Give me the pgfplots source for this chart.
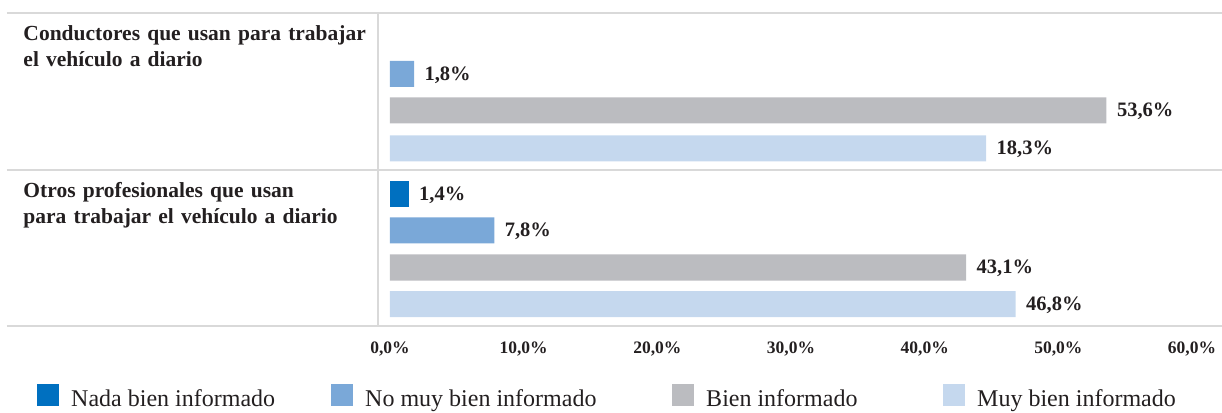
\documentclass[border=0pt]{standalone}
\usepackage{pgfplots}
\pgfplotsset{compat=1.18}
\usepackage{fontspec}
\setmainfont{Liberation Serif}
\definecolor{nada}{RGB}{0,112,192}
\definecolor{nomuy}{RGB}{122,168,216}
\definecolor{bien}{RGB}{187,188,192}
\definecolor{muy}{RGB}{197,216,238}
\definecolor{txt}{RGB}{35,31,32}
\definecolor{gridc}{RGB}{217,217,217}
\pgfplotsset{
  sq/.style={legend image code/.code={\fill[##1] (0pt,-7pt) rectangle (22pt,15pt);}},
  lab/.style={nodes near coords={\pgfmathprintnumber[fixed,fixed zerofill,precision=1,use comma,assume math mode=true]{\pgfplotspointmeta}\%},
    nodes near coords style={anchor=west, xshift=7pt, yshift=-1pt, text=txt, font=\bfseries\fontsize{20.5}{22}\selectfont}},
}
\pgfplotstableread{
y v m
-194.5 1.4 1.4
}\nada
\pgfplotstableread{
y v m
-74 1.8 1.8
-230.5 7.8 7.8
}\nomuy
\pgfplotstableread{
y v m
-110.5 53.6 53.6
-267.5 43.1 43.1
}\bien
\pgfplotstableread{
y v m
-148.5 44.6 18.3
-304 46.8 46.8
}\muy
\begin{document}
\begin{tikzpicture}
\begin{axis}[
  scale only axis, width=827pt, height=313pt,
  xmin=-0.8975, xmax=60.97, ymin=-326, ymax=-13,
  axis line style={draw=none},
  xtick={0,10,20,30,40,50,60},
  xticklabels={{0,0\%},{10,0\%},{20,0\%},{30,0\%},{40,0\%},{50,0\%},{60,0\%}},
  x tick style={draw=none},
  xticklabel style={font=\bfseries\fontsize{17.5}{18}\selectfont, text=txt, yshift=-12pt},
  ytick={-326,-170,-13},
  yticklabels={{},{Otros profesionales que usan\\para trabajar el vehículo a diario},{Conductores que usan para trabajar\\el vehículo a diario}},
  ytick align=outside,
  major tick length=371pt,
  y tick style={draw=gridc, line width=2pt},
  ymajorgrids,
  grid style={draw=gridc, line width=2pt},
  yticklabel style={anchor=north west, align=left, text width=365pt, text=txt,
    font=\bfseries\fontsize{21.5}{26}\selectfont, xshift=13pt, yshift=-9pt},
  extra x ticks={-0.8975}, extra x tick labels={},
  extra x tick style={grid=major, tick style={draw=none}},
  xbar, bar width=26, bar shift=0pt,
  point meta=explicit,
  legend columns=4,
  legend style={draw=none, fill=none, at={(axis description cs:-0.4159,-0.228)}, anchor=west,
    font=\fontsize{24}{25}\selectfont, text=txt,
    /tikz/every odd column/.style={column sep=10pt},
    /tikz/every even column/.style={column sep=0pt}},
  clip=false,
]
\addplot[xbar, sq, fill=nada, draw=none, lab] table[x=v,y=y,meta=m]{\nada};
\addlegendentry{\makebox[258pt][l]{Nada bien informado}}
\addplot[xbar, sq, fill=nomuy, draw=none, lab] table[x=v,y=y,meta=m]{\nomuy};
\addlegendentry{\makebox[305pt][l]{No muy bien informado}}
\addplot[xbar, sq, fill=bien, draw=none, lab] table[x=v,y=y,meta=m]{\bien};
\addlegendentry{\makebox[235pt][l]{Bien informado}}
\addplot[xbar, sq, fill=muy, draw=none, lab] table[x=v,y=y,meta=m]{\muy};
\addlegendentry{Muy bien informado}
\coordinate (TL) at (rel axis cs:0,1);
\end{axis}
\pgfresetboundingbox
\path[use as bounding box] ([xshift=-378pt,yshift=13pt]TL) rectangle ([xshift=844pt,yshift=-399pt]TL);
\end{tikzpicture}
\end{document}
